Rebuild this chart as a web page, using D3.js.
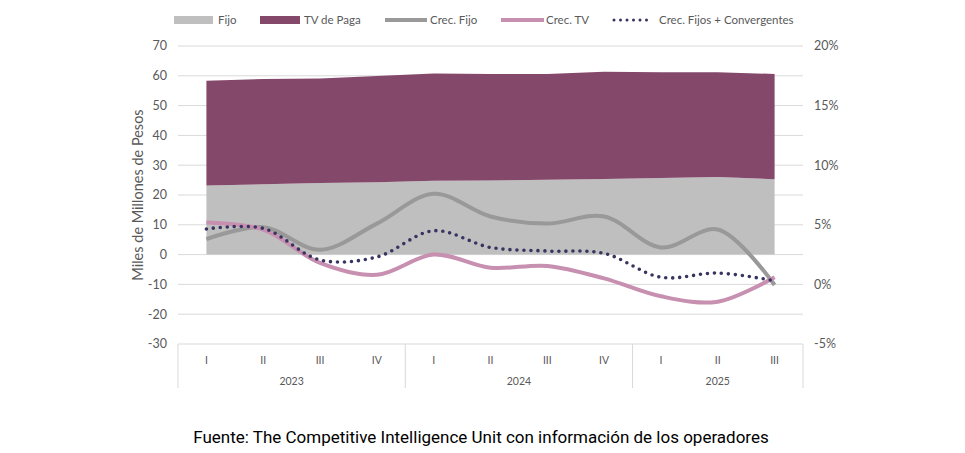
<!DOCTYPE html>
<html>
<head>
<meta charset="utf-8">
<script src="https://cdn.jsdelivr.net/npm/d3@7"></script>
<style>
  body { margin: 0; background: #fff; }
  svg { display: block; font-family: "Lato", "Open Sans", sans-serif; }
</style>
</head>
<body>
<svg id="chart" width="965" height="453"></svg>
<script>
/* Chart data */
const quarters = ["I", "II", "III", "IV", "I", "II", "III", "IV", "I", "II", "III"];
const years = ["2023", "2024", "2025"];
const yearSpans = [4, 4, 3];

// Miles de millones de pesos (stacked areas)
const fijo = [23.2, 23.6, 24.0, 24.3, 24.8, 24.9, 25.1, 25.4, 25.7, 26.0, 25.3];
const tvPaga = [35.1, 35.3, 35.1, 35.6, 36.0, 35.7, 35.5, 36.0, 35.5, 35.2, 35.3];

// Growth rates (%), right axis
const crecFijo = [3.8, 4.8, 2.9, 5.1, 7.6, 5.7, 5.1, 5.7, 3.1, 4.6, -0.05];
const crecTV = [5.2, 4.6, 1.8, 0.8, 2.5, 1.4, 1.55, 0.5, -1.0, -1.45, 0.6];
const crecConv = [4.65, 4.7, 2.05, 2.3, 4.5, 3.1, 2.8, 2.6, 0.6, 0.95, 0.3];

const leftTicks = [-30, -20, -10, 0, 10, 20, 30, 40, 50, 60, 70];
const rightTicks = [-5, 0, 5, 10, 15, 20];

/* Layout */
const svg = d3.select("#chart");
const plot = { left: 178, right: 803, top: 46, bottom: 344 };
const gridColor = "#d9d9d9";
const textColor = "#595959";

const x = d3.scaleBand()
  .domain(d3.range(quarters.length))
  .range([plot.left, plot.right]);
const cx = i => x(i) + x.bandwidth() / 2;

const yLeft = d3.scaleLinear().domain([-30, 70]).range([plot.bottom, plot.top]);
const yRight = d3.scaleLinear().domain([-5, 20]).range([plot.bottom, plot.top]);

// Gridlines
svg.append("g")
  .selectAll("line")
  .data(leftTicks)
  .join("line")
  .attr("x1", plot.left)
  .attr("x2", plot.right)
  .attr("y1", d => yLeft(d))
  .attr("y2", d => yLeft(d))
  .attr("stroke", gridColor)
  .attr("stroke-width", 1);

// Left axis labels
svg.append("g")
  .selectAll("text")
  .data(leftTicks)
  .join("text")
  .attr("x", 167)
  .attr("y", d => yLeft(d))
  .attr("dy", "0.35em")
  .attr("text-anchor", "end")
  .attr("font-size", 12.5)
  .attr("fill", textColor)
  .text(d => d);

// Right axis labels
svg.append("g")
  .selectAll("text")
  .data(rightTicks)
  .join("text")
  .attr("x", 814)
  .attr("y", d => yRight(d))
  .attr("dy", "0.35em")
  .attr("text-anchor", "start")
  .attr("font-size", 12.5)
  .attr("fill", textColor)
  .text(d => d + "%");

// Y axis title
svg.append("text")
  .attr("transform", `translate(143, ${(plot.top + plot.bottom) / 2}) rotate(-90)`)
  .attr("text-anchor", "middle")
  .attr("font-size", 14.5)
  .attr("fill", textColor)
  .text("Miles de Millones de Pesos");

// Stacked areas
const stackData = quarters.map((q, i) => ({ i, fijo: fijo[i], tv: tvPaga[i] }));
const series = d3.stack().keys(["fijo", "tv"])(stackData);
const areaColors = { fijo: "#bfbfbf", tv: "#84486a" };
const area = d3.area()
  .x(d => cx(d.data.i))
  .y0(d => yLeft(d[0]))
  .y1(d => yLeft(d[1]));

svg.append("g")
  .selectAll("path")
  .data(series)
  .join("path")
  .attr("d", area)
  .attr("fill", d => areaColors[d.key]);

// Growth lines
const line = d3.line()
  .x((d, i) => cx(i))
  .y(d => yRight(d))
  .curve(d3.curveCatmullRom.alpha(0.5));

svg.append("path")
  .attr("d", line(crecFijo))
  .attr("fill", "none")
  .attr("stroke", "#999999")
  .attr("stroke-width", 4);

svg.append("path")
  .attr("d", line(crecTV))
  .attr("fill", "none")
  .attr("stroke", "#c78fb0")
  .attr("stroke-width", 4);

svg.append("path")
  .attr("d", line(crecConv))
  .attr("fill", "none")
  .attr("stroke", "#37345f")
  .attr("stroke-width", 3.6)
  .attr("stroke-linecap", "round")
  .attr("stroke-dasharray", "0 7");

// Category axis (two-level)
const axisBottom = 388;
svg.append("g")
  .selectAll("text")
  .data(quarters)
  .join("text")
  .attr("x", (d, i) => cx(i))
  .attr("y", 360)
  .attr("dy", "0.35em")
  .attr("text-anchor", "middle")
  .attr("font-size", 10.5)
  .attr("fill", textColor)
  .text(d => d);

// Year group boundaries
const boundaries = [0];
yearSpans.forEach(s => boundaries.push(boundaries[boundaries.length - 1] + s));
const edgeX = k => k < quarters.length ? x(k) : plot.right;

svg.append("g")
  .selectAll("line")
  .data(boundaries)
  .join("line")
  .attr("x1", k => edgeX(k))
  .attr("x2", k => edgeX(k))
  .attr("y1", plot.bottom)
  .attr("y2", axisBottom)
  .attr("stroke", gridColor)
  .attr("stroke-width", 1);

svg.append("g")
  .selectAll("text")
  .data(years)
  .join("text")
  .attr("x", (d, j) => (edgeX(boundaries[j]) + edgeX(boundaries[j + 1])) / 2)
  .attr("y", 381)
  .attr("dy", "0.35em")
  .attr("text-anchor", "middle")
  .attr("font-size", 10.5)
  .attr("fill", textColor)
  .text(d => d);

// Legend
const legendY = 20;
const legendItems = [
  { label: "Fijo", type: "rect", color: "#bfbfbf", x0: 174, x1: 213, tx: 218 },
  { label: "TV de Paga", type: "rect", color: "#84486a", x0: 260, x1: 300, tx: 304 },
  { label: "Crec. Fijo", type: "line", color: "#999999", x0: 385, x1: 427, tx: 430 },
  { label: "Crec. TV", type: "line", color: "#c78fb0", x0: 501, x1: 544, tx: 546 },
  { label: "Crec. Fijos + Convergentes", type: "dots", color: "#37345f", x0: 614, x1: 652, tx: 659 }
];

const legend = svg.append("g");
legendItems.forEach(item => {
  if (item.type === "rect") {
    legend.append("rect")
      .attr("x", item.x0)
      .attr("y", legendY - 4)
      .attr("width", item.x1 - item.x0)
      .attr("height", 8)
      .attr("fill", item.color);
  } else {
    legend.append("line")
      .attr("x1", item.x0)
      .attr("x2", item.x1)
      .attr("y1", legendY)
      .attr("y2", legendY)
      .attr("stroke", item.color)
      .attr("stroke-width", item.type === "dots" ? 3 : 4)
      .attr("stroke-linecap", item.type === "dots" ? "round" : "butt")
      .attr("stroke-dasharray", item.type === "dots" ? "0 6.5" : null);
  }
  legend.append("text")
    .attr("x", item.tx)
    .attr("y", legendY)
    .attr("dy", "0.35em")
    .attr("font-size", 11.5)
    .attr("fill", textColor)
    .text(item.label);
});

// Source note
svg.append("text")
  .attr("x", 481)
  .attr("y", 437)
  .attr("dy", "0.35em")
  .attr("text-anchor", "middle")
  .attr("font-family", "Roboto, sans-serif")
  .attr("font-size", 17)
  .attr("fill", "#000")
  .text("Fuente: The Competitive Intelligence Unit con información de los operadores");
</script>
</body>
</html>
